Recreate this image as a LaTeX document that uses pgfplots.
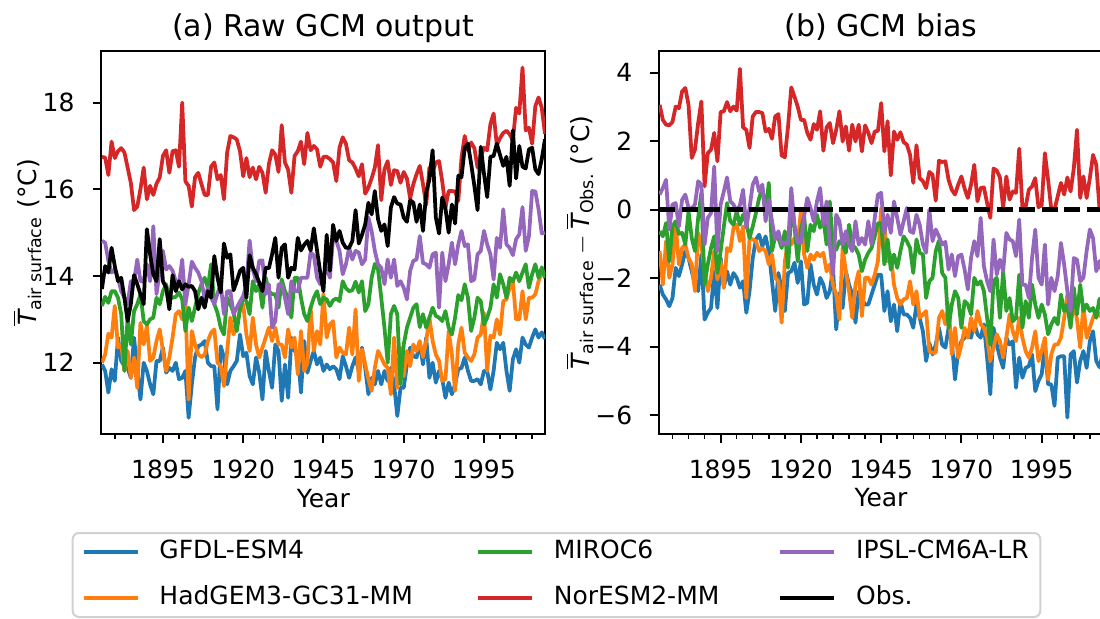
\documentclass[border=0pt]{standalone}
\usepackage{amsmath}
\usepackage{pgfplots}
\pgfplotsset{compat=1.18}
\usepackage{fontspec}
\setmainfont{DejaVu Sans}
\definecolor{c0}{HTML}{1F77B4}
\definecolor{c1}{HTML}{FF7F0E}
\definecolor{c2}{HTML}{2CA02C}
\definecolor{c3}{HTML}{D62728}
\definecolor{c4}{HTML}{9467BD}
\pgfplotsset{panel/.style={
  scale only axis, width=177.6pt, height=153.2pt,
  xmin=1875.8, xmax=2014.1,
  axis line style={line width=0.8pt},
  tick align=outside, xtick pos=left, ytick pos=left,
  major tick length=3.5pt, minor tick length=2pt,
  every major tick/.append style={line width=0.8pt, black},
  every minor tick/.append style={line width=0.6pt, black},
  xtick={1895,1920,1945,1970,1995},
  xticklabels={1895,1920,1945,1970,1995},
  minor xtick={1880,1885,...,2010},
  xticklabel style={anchor=base, yshift=-14.1pt, inner sep=0pt},
  yticklabel style={anchor=east, xshift=-7pt, inner sep=0pt},
  xlabel={Year},
  xlabel style={at={(axis description cs:0.5,-0.1906)}, anchor=base, inner sep=0pt},
  title style={at={(axis description cs:0.5,1)}, anchor=base, yshift=0pt, font=\fontsize{12}{14.4}\selectfont, inner sep=0pt},
  every axis plot/.append style={line width=1.5pt, line join=round},
}}
\begin{document}
\begin{tikzpicture}
\useasboundingbox (0,0) rectangle (440pt,247.2pt);
\begin{axis}[panel, at={(40.52pt,73.6pt)}, anchor=south west,
  ymin=10.355, ymax=19.19, ytick={12,14,16,18}, yticklabels={12,14,16,18},
  title={(a) Raw GCM output},
  ylabel={$\overline{\text{\itshape T}}_{\text{air surface}}$ (°C)},
  ylabel style={at={(axis description cs:-0.1336,0.5)}, anchor=south, inner sep=0pt},
  legend columns=3, legend cell align=left,
  legend image code/.code={\draw[#1] (0pt,0pt) -- (21.6pt,0pt);},
  legend style={at={(1.0252,-0.2559)}, anchor=north, draw=black!18, line width=0.8pt, rounded corners=2.5pt,
    inner xsep=3.6pt, inner ysep=1.6pt, column sep=0pt, row sep=6.4pt,
    nodes={inner sep=1pt, text height=7.6pt, text depth=2.4pt},
    /tikz/every odd column/.append style={column sep=7pt},
    /tikz/column 2/.append style={column sep=24.3pt},
    /tikz/column 4/.append style={column sep=22.6pt}},
]
% GFDL-ESM4
\addplot[c0, forget plot] coordinates {
(1876,11.96) (1877,11.81) (1878,11.31) (1879,11.85) (1880,11.58) (1881,12.58) (1882,12.04) (1883,11.92) (1884,11.88) (1885,11.65)
(1886,12.58) (1887,11.81) (1888,11.15) (1889,12.0) (1890,11.81) (1891,11.5) (1892,11.27) (1893,12.04) (1894,12.04) (1895,12.35)
(1896,11.77) (1897,11.88) (1898,11.81) (1899,12.0) (1900,11.62) (1901,11.65) (1902,11.81) (1903,10.73) (1904,11.5) (1905,12.12)
(1906,12.38) (1907,12.42) (1908,12.5) (1909,12.0) (1910,11.92) (1911,11.92) (1912,10.92) (1913,12.38) (1914,12.12) (1915,11.5)
(1916,11.81) (1917,11.92) (1918,12.04) (1919,12.65) (1920,12.15) (1921,12.23) (1922,11.69) (1923,11.5) (1924,12.12) (1925,11.77)
(1926,11.15) (1927,12.27) (1928,11.81) (1929,11.42) (1930,12.42) (1931,12.27) (1932,11.12) (1933,11.96) (1934,11.19) (1935,12.58)
(1936,12.27) (1937,12.23) (1938,11.31) (1939,12.5) (1940,11.77) (1941,12.04) (1942,12.27) (1943,11.96) (1944,12.12) (1945,11.81)
(1946,11.96) (1947,11.85) (1948,11.92) (1949,11.85) (1950,11.62) (1951,12.15) (1952,11.92) (1953,11.65) (1954,11.92) (1955,12.12)
(1956,11.81) (1957,12.35) (1958,11.88) (1959,11.27) (1960,11.65) (1961,11.5) (1962,11.81) (1963,11.5) (1964,11.81) (1965,11.58)
(1966,11.88) (1967,11.5) (1968,10.77) (1969,11.42) (1970,11.42) (1971,11.96) (1972,12.35) (1973,12.15) (1974,12.12) (1975,12.46)
(1976,11.96) (1977,12.58) (1978,11.65) (1979,12.0) (1980,11.54) (1981,11.81) (1982,11.62) (1983,11.19) (1984,11.54) (1985,11.27)
(1986,11.5) (1987,11.85) (1988,11.88) (1989,12.12) (1990,11.81) (1991,11.58) (1992,11.58) (1993,11.62) (1994,11.5) (1995,11.81)
(1996,11.81) (1997,11.38) (1998,11.81) (1999,12.46) (2000,12.31) (2001,12.46) (2002,11.81) (2003,11.35) (2004,12.08) (2005,12.31)
(2006,12.0) (2007,12.58) (2008,12.42) (2009,12.35) (2010,12.58) (2011,12.77) (2012,12.58) (2013,12.7) (2014,12.55)};
% HadGEM3-GC31-MM
\addplot[c1, forget plot] coordinates {
(1876,12.0) (1877,12.19) (1878,12.67) (1879,12.58) (1880,13.31) (1881,12.35) (1882,12.42) (1883,11.81) (1884,12.27) (1885,11.65)
(1886,12.12) (1887,11.42) (1888,12.92) (1889,12.42) (1890,12.85) (1891,12.04) (1892,12.12) (1893,12.5) (1894,12.77) (1895,12.27)
(1896,11.81) (1897,12.12) (1898,12.58) (1899,13.12) (1900,13.19) (1901,13.0) (1902,13.35) (1903,11.15) (1904,12.73) (1905,12.42)
(1906,12.19) (1907,12.13) (1908,12.19) (1909,12.5) (1910,12.69) (1911,12.77) (1912,12.0) (1913,11.92) (1914,11.46) (1915,12.27)
(1916,13.04) (1917,12.65) (1918,12.88) (1919,13.23) (1920,13.35) (1921,12.65) (1922,12.27) (1923,13.04) (1924,12.42) (1925,12.12)
(1926,12.35) (1927,12.58) (1928,12.81) (1929,12.5) (1930,12.81) (1931,12.42) (1932,12.42) (1933,12.12) (1934,12.77) (1935,12.35)
(1936,12.58) (1937,11.73) (1938,12.73) (1939,11.81) (1940,12.0) (1941,13.27) (1942,12.27) (1943,12.73) (1944,12.42) (1945,13.59)
(1946,12.58) (1947,12.88) (1948,12.96) (1949,12.12) (1950,12.35) (1951,12.23) (1952,12.19) (1953,12.81) (1954,12.19) (1955,13.23)
(1956,11.58) (1957,12.31) (1958,11.96) (1959,11.62) (1960,11.35) (1961,11.88) (1962,12.27) (1963,12.12) (1964,11.96) (1965,11.88)
(1966,11.27) (1967,12.58) (1968,11.42) (1969,12.35) (1970,11.69) (1971,12.27) (1972,11.92) (1973,12.42) (1974,12.27) (1975,12.5)
(1976,12.13) (1977,12.5) (1978,13.04) (1979,12.5) (1980,12.19) (1981,12.04) (1982,11.58) (1983,11.62) (1984,12.73) (1985,12.19)
(1986,11.35) (1987,12.42) (1988,12.81) (1989,12.23) (1990,12.12) (1991,12.04) (1992,12.19) (1993,12.58) (1994,12.65) (1995,13.15)
(1996,11.81) (1997,12.62) (1998,12.58) (1999,13.0) (2000,12.65) (2001,13.42) (2002,13.46) (2003,13.73) (2004,13.88) (2005,13.0)
(2006,13.0) (2007,13.65) (2008,13.0) (2009,13.5) (2010,13.5) (2011,13.58) (2012,13.88) (2013,14.08) (2014,14.1)};
% MIROC6
\addplot[c2, forget plot] coordinates {
(1876,13.31) (1877,13.52) (1878,13.38) (1879,13.65) (1880,13.65) (1881,13.5) (1882,13.12) (1883,11.81) (1884,13.04) (1885,12.42)
(1886,13.19) (1887,13.35) (1888,13.58) (1889,12.96) (1890,12.88) (1891,13.0) (1892,13.04) (1893,13.5) (1894,13.35) (1895,13.65)
(1896,13.81) (1897,13.46) (1898,13.5) (1899,13.52) (1900,13.62) (1901,13.46) (1902,12.73) (1903,13.27) (1904,12.96) (1905,13.27)
(1906,13.6) (1907,13.81) (1908,13.96) (1909,13.73) (1910,14.27) (1911,13.35) (1912,13.15) (1913,12.81) (1914,12.65) (1915,13.5)
(1916,13.35) (1917,13.15) (1918,12.73) (1919,13.23) (1920,13.5) (1921,13.42) (1922,13.12) (1923,13.88) (1924,13.65) (1925,13.81)
(1926,13.27) (1927,13.96) (1928,13.65) (1929,13.58) (1930,13.58) (1931,13.27) (1932,13.92) (1933,13.65) (1934,13.5) (1935,13.04)
(1936,13.96) (1937,13.96) (1938,13.5) (1939,13.12) (1940,12.96) (1941,13.27) (1942,13.5) (1943,13.65) (1944,13.35) (1945,13.5)
(1946,13.46) (1947,13.31) (1948,13.44) (1949,13.48) (1950,13.42) (1951,13.88) (1952,13.72) (1953,13.65) (1954,13.67) (1955,13.87)
(1956,13.62) (1957,13.88) (1958,13.19) (1959,13.35) (1960,13.96) (1961,14.28) (1962,14.15) (1963,13.5) (1964,12.81) (1965,12.0)
(1966,13.12) (1967,13.31) (1968,13.12) (1969,11.5) (1970,12.42) (1971,12.81) (1972,13.04) (1973,13.27) (1974,13.35) (1975,12.82)
(1976,13.12) (1977,12.81) (1978,13.04) (1979,13.27) (1980,13.08) (1981,13.04) (1982,12.96) (1983,13.19) (1984,12.81) (1985,12.65)
(1986,13.04) (1987,13.56) (1988,13.44) (1989,13.81) (1990,13.5) (1991,12.73) (1992,13.04) (1993,13.5) (1994,13.42) (1995,12.88)
(1996,13.04) (1997,13.27) (1998,13.81) (1999,13.5) (2000,14.04) (2001,13.81) (2002,13.5) (2003,13.96) (2004,13.88) (2005,14.08)
(2006,13.88) (2007,14.08) (2008,14.27) (2009,13.73) (2010,14.04) (2011,14.27) (2012,13.96) (2013,14.2) (2014,13.95)};
% NorESM2-MM
\addplot[c3, forget plot] coordinates {
(1876,16.75) (1877,16.73) (1878,16.33) (1879,17.1) (1880,16.72) (1881,16.88) (1882,16.95) (1883,16.85) (1884,16.5) (1885,16.15)
(1886,15.52) (1887,15.6) (1888,16.0) (1889,16.5) (1890,15.77) (1891,16.08) (1892,15.87) (1893,16.13) (1894,16.27) (1895,16.77)
(1896,16.9) (1897,16.38) (1898,16.88) (1899,16.9) (1900,16.52) (1901,18.0) (1902,16.18) (1903,16.08) (1904,15.6) (1905,16.28)
(1906,16.38) (1907,16.12) (1908,15.87) (1909,15.87) (1910,16.52) (1911,16.62) (1912,16.23) (1913,16.33) (1914,15.77) (1915,16.85)
(1916,17.23) (1917,17.2) (1918,17.15) (1919,16.88) (1920,16.3) (1921,16.72) (1922,16.28) (1923,16.5) (1924,16.23) (1925,16.52)
(1926,16.38) (1927,15.92) (1928,16.58) (1929,16.9) (1930,16.8) (1931,16.4) (1932,17.48) (1933,16.62) (1934,16.45) (1935,15.92)
(1936,16.77) (1937,16.88) (1938,17.1) (1939,16.58) (1940,17.3) (1941,16.9) (1942,17.0) (1943,16.92) (1944,16.52) (1945,16.75)
(1946,16.75) (1947,16.7) (1948,16.62) (1949,16.19) (1950,16.96) (1951,17.2) (1952,17.05) (1953,16.67) (1954,16.62) (1955,16.48)
(1956,16.3) (1957,16.58) (1958,15.9) (1959,16.04) (1960,16.25) (1961,16.5) (1962,17.02) (1963,15.75) (1964,16.46) (1965,16.65)
(1966,16.1) (1967,16.44) (1968,16.42) (1969,16.15) (1970,16.4) (1971,16.25) (1972,15.79) (1973,16.12) (1974,16.35) (1975,16.54)
(1976,16.12) (1977,15.64) (1978,16.5) (1979,16.4) (1980,16.62) (1981,16.65) (1982,16.18) (1983,15.58) (1984,15.96) (1985,15.96)
(1986,15.95) (1987,15.73) (1988,16.73) (1989,17.23) (1990,16.9) (1991,17.08) (1992,16.95) (1993,16.5) (1994,16.75) (1995,16.96)
(1996,16.9) (1997,17.5) (1998,17.75) (1999,17.02) (2000,17.18) (2001,17.3) (2002,17.35) (2003,17.27) (2004,17.13) (2005,17.88)
(2006,17.75) (2007,18.81) (2008,17.36) (2009,17.42) (2010,17.05) (2011,17.92) (2012,18.12) (2013,17.88) (2014,17.28)};
% IPSL-CM6A-LR
\addplot[c4, forget plot] coordinates {
(1876,14.81) (1877,14.77) (1878,14.35) (1879,14.08) (1880,14.15) (1881,13.96) (1882,13.65) (1883,13.5) (1884,13.35) (1885,13.88)
(1886,13.88) (1887,14.38) (1888,13.88) (1889,13.88) (1890,14.27) (1891,13.88) (1892,15.15) (1893,13.58) (1894,14.12) (1895,14.58)
(1896,14.15) (1897,14.23) (1898,14.12) (1899,13.88) (1900,13.81) (1901,14.38) (1902,13.35) (1903,13.81) (1904,14.33) (1905,14.19)
(1906,14.08) (1907,13.88) (1908,13.48) (1909,13.73) (1910,13.5) (1911,13.35) (1912,13.6) (1913,13.81) (1914,13.12) (1915,13.65)
(1916,13.65) (1917,13.12) (1918,13.27) (1919,13.41) (1920,13.54) (1921,13.81) (1922,14.82) (1923,14.15) (1924,13.88) (1925,14.35)
(1926,14.36) (1927,13.58) (1928,13.81) (1929,12.81) (1930,12.96) (1931,13.81) (1932,13.81) (1933,13.5) (1934,13.12) (1935,13.88)
(1936,13.65) (1937,13.65) (1938,13.96) (1939,13.96) (1940,13.96) (1941,14.54) (1942,14.48) (1943,13.96) (1944,13.81) (1945,14.0)
(1946,14.19) (1947,13.96) (1948,14.88) (1949,14.81) (1950,14.58) (1951,14.04) (1952,14.27) (1953,14.65) (1954,14.38) (1955,14.58)
(1956,14.54) (1957,14.27) (1958,14.38) (1959,15.35) (1960,15.04) (1961,14.58) (1962,14.27) (1963,14.19) (1964,13.81) (1965,14.38)
(1966,13.96) (1967,14.38) (1968,13.77) (1969,13.88) (1970,13.73) (1971,13.46) (1972,14.12) (1973,14.35) (1974,14.38) (1975,14.92)
(1976,14.3) (1977,14.27) (1978,14.19) (1979,14.5) (1980,14.54) (1981,13.27) (1982,14.54) (1983,13.88) (1984,14.27) (1985,14.77)
(1986,14.27) (1987,14.73) (1988,15.04) (1989,14.69) (1990,14.73) (1991,13.88) (1992,13.92) (1993,14.5) (1994,14.58) (1995,15.04)
(1996,14.73) (1997,14.5) (1998,13.92) (1999,14.88) (2000,14.65) (2001,15.54) (2002,14.73) (2003,14.65) (2004,14.48) (2005,14.85)
(2006,14.96) (2007,15.59) (2008,14.58) (2009,14.92) (2010,15.96) (2011,15.95) (2012,15.54) (2013,14.98) (2014,15.0)};
% Obs.
\addplot[black, forget plot] coordinates {
(1876,13.7) (1877,14.23) (1878,14.08) (1879,14.65) (1880,14.23) (1881,13.88) (1882,13.96) (1883,13.5) (1884,12.96) (1885,13.35)
(1886,14.02) (1887,13.81) (1888,13.58) (1889,13.35) (1890,15.08) (1891,14.5) (1892,14.04) (1893,13.88) (1894,14.85) (1895,13.88)
(1896,13.73) (1897,13.23) (1898,14.02) (1899,13.65) (1900,13.88) (1901,13.69) (1902,13.81) (1903,13.75) (1904,13.77) (1905,13.65)
(1906,13.23) (1907,13.5) (1908,13.27) (1909,13.65) (1910,13.5) (1911,14.46) (1912,13.96) (1913,13.62) (1914,14.75) (1915,14.42)
(1916,14.5) (1917,13.67) (1918,13.88) (1919,14.12) (1920,14.19) (1921,13.5) (1922,14.48) (1923,14.19) (1924,14.04) (1925,13.85)
(1926,13.65) (1927,14.19) (1928,14.18) (1929,14.5) (1930,14.88) (1931,13.96) (1932,14.65) (1933,14.73) (1934,13.96) (1935,14.19)
(1936,14.15) (1937,14.88) (1938,14.59) (1939,14.72) (1940,14.81) (1941,14.59) (1942,15.1) (1943,14.59) (1944,14.08) (1945,13.65)
(1946,14.95) (1947,14.12) (1948,15.18) (1949,14.81) (1950,15.04) (1951,14.77) (1952,14.65) (1953,14.65) (1954,14.81) (1955,15.52)
(1956,14.75) (1957,14.95) (1958,15.19) (1959,15.69) (1960,15.42) (1961,15.96) (1962,15.31) (1963,15.04) (1964,15.19) (1965,14.69)
(1966,15.58) (1967,15.82) (1968,15.67) (1969,15.65) (1970,15.35) (1971,15.25) (1972,15.75) (1973,15.69) (1974,15.25) (1975,15.65)
(1976,15.04) (1977,15.92) (1978,16.23) (1979,16.9) (1980,15.35) (1981,14.98) (1982,15.81) (1983,15.56) (1984,15.0) (1985,15.65)
(1986,15.21) (1987,16.31) (1988,16.28) (1989,16.96) (1990,17.05) (1991,16.59) (1992,16.08) (1993,15.52) (1994,16.98) (1995,16.36)
(1996,15.82) (1997,16.75) (1998,16.77) (1999,17.05) (2000,16.79) (2001,16.54) (2002,16.75) (2003,16.08) (2004,17.36) (2005,16.25)
(2006,17.0) (2007,16.52) (2008,16.48) (2009,16.92) (2010,16.96) (2011,16.46) (2012,16.35) (2013,16.7) (2014,17.15)};
\addlegendimage{c0, line width=1.5pt}\addlegendentry{GFDL-ESM4}
\addlegendimage{c2, line width=1.5pt}\addlegendentry{MIROC6}
\addlegendimage{c4, line width=1.5pt}\addlegendentry{IPSL-CM6A-LR}
\addlegendimage{c1, line width=1.5pt}\addlegendentry{HadGEM3-GC31-MM}
\addlegendimage{c3, line width=1.5pt}\addlegendentry{NorESM2-MM}
\addlegendimage{black, line width=1.5pt}\addlegendentry{Obs.}
\end{axis}
\begin{axis}[panel, at={(263.6pt,73.6pt)}, anchor=south west,
  ymin=-6.55, ymax=4.63, ytick={-6,-4,-2,0,2,4}, yticklabels={−6,−4,−2,0,2,4},
  title={(b) GCM bias},
  ylabel={$\overline{\text{\itshape T}}_{\text{air surface}} - \overline{\text{\itshape T}}_{\text{Obs.}}$ (°C)},
  ylabel style={at={(axis description cs:-0.1453,0.5)}, anchor=south, inner sep=0pt},
]
% GFDL-ESM4 bias
\addplot[c0] coordinates {
(1876,-2.19) (1877,-2.48) (1878,-2.62) (1879,-2.82) (1880,-2.58) (1881,-1.7) (1882,-1.94) (1883,-1.6) (1884,-1.21) (1885,-1.41)
(1886,-1.8) (1887,-2.19) (1888,-2.38) (1889,-1.31) (1890,-3.21) (1891,-3.01) (1892,-2.87) (1893,-1.8) (1894,-2.87) (1895,-1.41)
(1896,-2.28) (1897,-1.8) (1898,-2.19) (1899,-1.85) (1900,-1.99) (1901,-2.28) (1902,-2.09) (1903,-3.01) (1904,-2.38) (1905,-1.41)
(1906,-0.87) (1907,-0.73) (1908,-1.07) (1909,-0.78) (1910,-1.21) (1911,-2.09) (1912,-2.96) (1913,-1.85) (1914,-2.33) (1915,-2.96)
(1916,-1.85) (1917,-1.8) (1918,-1.55) (1919,-2.14) (1920,-1.51) (1921,-2.77) (1922,-2.72) (1923,-1.6) (1924,-2.19) (1925,-2.48)
(1926,-1.99) (1927,-2.19) (1928,-2.58) (1929,-2.38) (1930,-1.7) (1931,-3.5) (1932,-2.43) (1933,-2.87) (1934,-1.8) (1935,-2.19)
(1936,-2.48) (1937,-3.3) (1938,-2.38) (1939,-2.62) (1940,-2.77) (1941,-2.77) (1942,-2.48) (1943,-2.19) (1944,-1.9)
(1945,-1.9) (1946,-2.96) (1947,-2.38) (1948,-3.26) (1949,-2.77) (1950,-3.55) (1951,-2.67) (1952,-3.06) (1953,-3.06) (1954,-3.16)
(1955,-3.45) (1956,-2.77) (1957,-3.16) (1958,-3.55) (1959,-4.42) (1960,-3.89) (1961,-4.23) (1962,-3.94) (1963,-3.45) (1964,-3.94)
(1965,-4.03) (1966,-3.45) (1967,-3.84) (1968,-4.96) (1969,-4.13) (1970,-3.84) (1971,-3.74) (1972,-3.64) (1973,-3.74) (1974,-3.3)
(1975,-3.64) (1976,-3.74) (1977,-3.35) (1978,-4.32) (1979,-5.39) (1980,-3.45) (1981,-3.94) (1982,-4.32) (1983,-4.62) (1984,-3.74)
(1985,-3.94) (1986,-3.84) (1987,-5.2) (1988,-4.32) (1989,-4.91) (1990,-4.62) (1991,-4.57) (1992,-4.23) (1993,-5.3) (1994,-5.0)
(1995,-4.81) (1996,-3.94) (1997,-5.1) (1998,-5.1) (1999,-5.73) (2000,-4.32) (2001,-4.28) (2002,-4.28) (2003,-6.07) (2004,-4.23)
(2005,-4.13) (2006,-5.05) (2007,-4.42) (2008,-4.13) (2009,-4.62) (2010,-3.84) (2011,-3.55) (2012,-4.42) (2013,-4.6) (2014,-4.2)};
% HadGEM3 bias
\addplot[c1] coordinates {
(1876,-1.21) (1877,-2.19) (1878,-0.92) (1879,-1.99) (1880,-1.6) (1881,-0.44) (1882,-1.6) (1883,-1.12) (1884,-1.02) (1885,-1.41)
(1886,-1.6) (1887,-2.38) (1888,-0.68) (1889,-1.02) (1890,-1.8) (1891,-2.38) (1892,-1.99) (1893,-1.21) (1894,-2.04) (1895,-1.51)
(1896,-2.28) (1897,-1.12) (1898,-1.21) (1899,-0.53) (1900,-0.44) (1901,-0.92) (1902,-0.49) (1903,-2.58) (1904,-0.83) (1905,-0.87)
(1906,-0.92) (1907,-1.21) (1908,-1.12) (1909,-1.21) (1910,-1.6) (1911,-1.31) (1912,-1.99) (1913,-2.09) (1914,-3.3) (1915,-1.51)
(1916,-0.92) (1917,-1.02) (1918,-0.83) (1919,-0.97) (1920,-0.05) (1921,-1.31) (1922,-1.7) (1923,-1.31) (1924,-1.46) (1925,-1.26)
(1926,-1.36) (1927,-1.26) (1928,-1.8) (1929,-1.6) (1930,-2.19) (1931,-2.48) (1932,-3.21) (1933,-1.12) (1934,-1.8) (1935,-2.38)
(1936,-3.16) (1937,-2.19) (1938,-1.8) (1939,-3.11) (1940,-1.99) (1941,-1.99) (1942,-2.19) (1943,-1.9) (1944,-1.5)
(1945,0.05) (1946,-0.44) (1947,-1.51) (1948,-1.31) (1949,-2.19) (1950,-2.58) (1951,-2.77) (1952,-2.62) (1953,-2.58) (1954,-2.09)
(1955,-2.77) (1956,-2.38) (1957,-3.16) (1958,-3.06) (1959,-2.96) (1960,-4.13) (1961,-4.18) (1962,-4.18) (1963,-3.16) (1964,-2.96)
(1965,-3.35) (1966,-2.77) (1967,-4.23) (1968,-3.45) (1969,-4.32) (1970,-3.94) (1971,-3.45) (1972,-3.74) (1973,-3.16) (1974,-3.55)
(1975,-2.96) (1976,-3.35) (1977,-3.45) (1978,-3.74) (1979,-4.42) (1980,-4.03) (1981,-3.64) (1982,-3.84) (1983,-4.32) (1984,-3.74)
(1985,-3.06) (1986,-3.55) (1987,-3.84) (1988,-3.16) (1989,-3.74) (1990,-4.13) (1991,-4.32) (1992,-4.03) (1993,-3.55) (1994,-4.42)
(1995,-4.13) (1996,-3.74) (1997,-4.96) (1998,-4.23) (1999,-3.94) (2000,-3.94) (2001,-3.74) (2002,-3.16) (2003,-2.48) (2004,-3.4)
(2005,-2.67) (2006,-3.21) (2007,-4.03) (2008,-2.77) (2009,-3.74) (2010,-3.45) (2011,-3.16) (2012,-2.96) (2013,-3.1) (2014,-2.9)};
% MIROC6 bias
\addplot[c2] coordinates {
(1876,-0.63) (1877,-0.78) (1878,-0.39) (1879,-1.51) (1880,-0.49) (1881,-0.34) (1882,-0.71) (1883,-0.68) (1884,-1.02) (1885,-0.05)
(1886,-0.83) (1887,-1.21) (1888,-0.24) (1889,0.49) (1890,-2.19) (1891,-1.6) (1892,-1.12) (1893,-0.78) (1894,-1.85) (1895,-1.21)
(1896,-0.49) (1897,0.19) (1898,-0.34) (1899,-0.44) (1900,-0.05) (1901,-0.44) (1902,-0.15) (1903,-0.39) (1904,-0.83) (1905,-0.49)
(1906,-0.1) (1907,0.34) (1908,0.63) (1909,-0.05) (1910,0.78) (1911,-1.21) (1912,-0.78) (1913,-0.83) (1914,-1.12) (1915,-0.63)
(1916,-1.7) (1917,-0.05) (1918,-0.49) (1919,-1.51) (1920,-0.58) (1921,-0.19) (1922,-1.21) (1923,-0.44) (1924,-0.63) (1925,-0.15)
(1926,-0.53) (1927,-0.24) (1928,-1.02) (1929,0.24) (1930,-1.12) (1931,-1.17) (1932,-0.92) (1933,-1.02) (1934,-1.26) (1935,-0.44)
(1936,-1.02) (1937,-1.12) (1938,-1.31) (1939,-1.8) (1940,-1.46) (1941,-1.26) (1942,-1.12) (1943,-0.78) (1944,-0.4)
(1945,-0.39) (1946,-1.6) (1947,-0.87) (1948,-1.75) (1949,-1.31) (1950,-1.7) (1951,-1.21) (1952,-0.78) (1953,-0.92) (1954,-1.12)
(1955,-1.85) (1956,-0.87) (1957,-1.26) (1958,-1.31) (1959,-2.58) (1960,-2.09) (1961,-1.99) (1962,-1.21) (1963,-0.9) (1964,-1.85)
(1965,-1.99) (1966,-3.45) (1967,-2.77) (1968,-2.38) (1969,-2.58) (1970,-3.45) (1971,-2.67) (1972,-2.77) (1973,-3.06) (1974,-1.99)
(1975,-2.19) (1976,-2.09) (1977,-2.38) (1978,-3.16) (1979,-3.94) (1980,-2.09) (1981,-1.99) (1982,-3.16) (1983,-1.8) (1984,-2.96)
(1985,-2.58) (1986,-3.26) (1987,-3.16) (1988,-1.9) (1989,-3.45) (1990,-2.67) (1991,-3.16) (1992,-2.19) (1993,-2.77) (1994,-3.16)
(1995,-2.77) (1996,-3.06) (1997,-3.64) (1998,-3.35) (1999,-3.16) (2000,-3.35) (2001,-2.48) (2002,-2.96) (2003,-2.77) (2004,-3.45)
(2005,-2.28) (2006,-3.06) (2007,-2.19) (2008,-2.96) (2009,-2.77) (2010,-2.96) (2011,-2.87) (2012,-3.16) (2013,-2.6) (2014,-3.0)};
% NorESM2 bias
\addplot[c3] coordinates {
(1876,3.06) (1877,2.62) (1878,2.48) (1879,2.46) (1880,2.56) (1881,3.01) (1882,2.96) (1883,3.45) (1884,3.55) (1885,3.06)
(1886,1.51) (1887,1.75) (1888,2.53) (1889,3.16) (1890,0.68) (1891,1.65) (1892,1.75) (1893,2.24) (1894,1.41) (1895,2.85)
(1896,2.87) (1897,3.14) (1898,2.87) (1899,3.01) (1900,2.89) (1901,4.11) (1902,2.4) (1903,2.33) (1904,1.8) (1905,2.72)
(1906,2.85) (1907,2.85) (1908,2.82) (1909,2.28) (1910,2.36) (1911,2.07) (1912,2.72) (1913,2.79) (1914,1.58) (1915,1.53)
(1916,2.43) (1917,3.57) (1918,3.3) (1919,3.01) (1920,2.62) (1921,2.62) (1922,2.24) (1923,2.04) (1924,2.5) (1925,2.33)
(1926,2.87) (1927,1.72) (1928,2.4) (1929,2.53) (1930,1.94) (1931,2.33) (1932,2.87) (1933,1.99) (1934,2.43) (1935,1.72)
(1936,2.48) (1937,1.99) (1938,2.48) (1939,1.7) (1940,2.46) (1941,2.24) (1942,1.94) (1943,2.28) (1944,2.3)
(1945,3.11) (1946,1.7) (1947,2.58) (1948,1.0) (1949,2.28) (1950,2.04) (1951,2.26) (1952,1.97) (1953,1.9) (1954,1.6)
(1955,0.78) (1956,1.88) (1957,0.92) (1958,0.83) (1959,0.63) (1960,1.1) (1961,1.02) (1962,0.26) (1963,1.43) (1964,1.39)
(1965,1.41) (1966,0.87) (1967,0.58) (1968,0.44) (1969,0.73) (1970,0.97) (1971,0.61) (1972,0.34) (1973,0.73) (1974,1.31)
(1975,0.24) (1976,0.63) (1977,0.65) (1978,0.19) (1979,-0.24) (1980,1.2) (1981,1.14) (1982,0.94) (1983,0.05) (1984,0.97)
(1985,0.29) (1986,0.53) (1987,0.49) (1988,1.78) (1989,0.05) (1990,0.07) (1991,0.58) (1992,0.68) (1993,0.92) (1994,0.07)
(1995,0.13) (1996,1.65) (1997,0.87) (1998,0.0) (1999,0.0) (2000,0.39) (2001,0.78) (2002,0.44) (2003,0.94) (2004,0.53)
(2005,1.2) (2006,2.33) (2007,0.34) (2008,0.97) (2009,0.34) (2010,0.92) (2011,1.6) (2012,1.31) (2013,0.05) (2014,0.4)};
% IPSL bias
\addplot[c4] coordinates {
(1876,0.44) (1877,0.63) (1878,0.87) (1879,-0.58) (1880,0.15) (1881,0.19) (1882,-0.49) (1883,0.29) (1884,0.44) (1885,0.05)
(1886,0.03) (1887,0.15) (1888,0.83) (1889,0.73) (1890,-1.02) (1891,-0.24) (1892,-0.1) (1893,1.26) (1894,-1.21) (1895,0.15)
(1896,0.53) (1897,0.94) (1898,0.24) (1899,0.15) (1900,-0.05) (1901,0.13) (1902,0.58) (1903,-0.53) (1904,0.05) (1905,0.73)
(1906,0.94) (1907,0.53) (1908,0.73) (1909,-0.34) (1910,0.29) (1911,-0.34) (1912,-0.87) (1913,-0.63) (1914,-1.02) (1915,-0.97)
(1916,-1.02) (1917,0.63) (1918,-0.44) (1919,-0.97) (1920,-0.97) (1921,-0.19) (1922,0.34) (1923,0.05) (1924,-0.34) (1925,0.24)
(1926,0.63) (1927,-0.44) (1928,0.24) (1929,-1.02) (1930,-1.9) (1931,-0.15) (1932,-0.34) (1933,-1.02) (1934,-0.63) (1935,-1.02)
(1936,-1.21) (1937,-0.34) (1938,-1.02) (1939,-0.83) (1940,-1.02) (1941,-0.34) (1942,-1.02) (1943,-0.24) (1944,0.44)
(1945,0.49) (1946,-0.68) (1947,-0.15) (1948,-0.68) (1949,0.24) (1950,-0.24) (1951,-0.73) (1952,-0.34) (1953,0.05) (1954,-0.63)
(1955,-0.68) (1956,-0.15) (1957,-0.44) (1958,-1.02) (1959,-1.26) (1960,0.0) (1961,-0.92) (1962,-0.58) (1963,-0.78) (1964,-1.02)
(1965,-0.94) (1966,-1.75) (1967,-1.31) (1968,-1.94) (1969,-1.36) (1970,-1.31) (1971,-1.75) (1972,-2.33) (1973,-1.41) (1974,-0.92)
(1975,-1.36) (1976,-0.24) (1977,-1.65) (1978,-2.09) (1979,-2.38) (1980,-0.87) (1981,-1.9) (1982,-1.46) (1983,-1.8) (1984,-0.68)
(1985,-0.87) (1986,-0.92) (1987,-1.36) (1988,-0.29) (1989,-2.19) (1990,-2.19) (1991,-2.58) (1992,-1.41) (1993,-0.58) (1994,-1.99)
(1995,-2.19) (1996,-1.02) (1997,-2.77) (1998,-1.99) (1999,-2.38) (2000,-1.94) (2001,-0.97) (2002,-1.6) (2003,-2.38) (2004,-2.96)
(2005,-1.41) (2006,-1.46) (2007,-2.09) (2008,-1.99) (2009,-1.21) (2010,-0.58) (2011,-0.83) (2012,-1.8) (2013,-1.5) (2014,-1.9)};
% zero line
\addplot[black, line width=2pt, dash pattern=on 6.5pt off 2.5pt] coordinates {(1875.8,0) (2014.1,0)};
\end{axis}
\end{tikzpicture}
\end{document}
